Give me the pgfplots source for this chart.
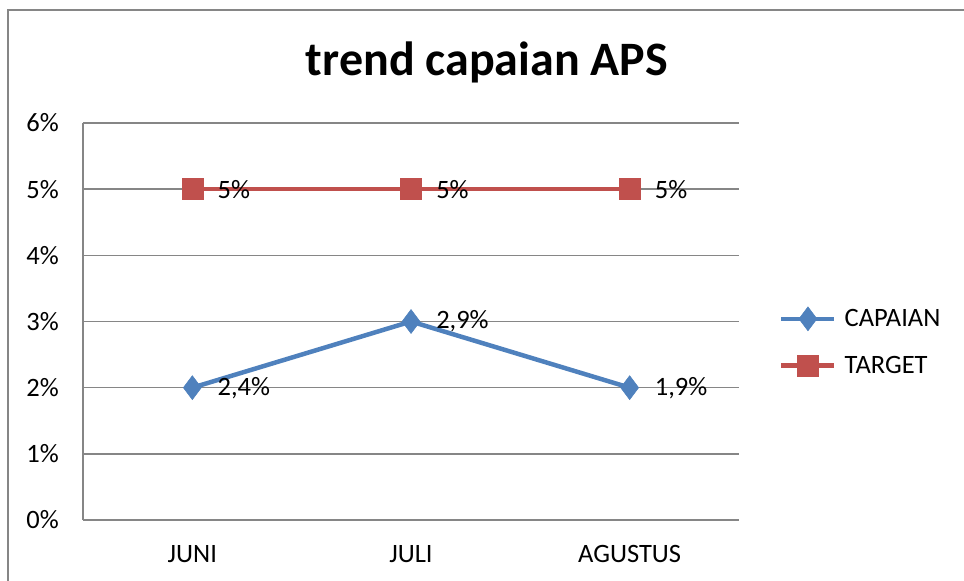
\documentclass[border=0pt]{standalone}
\usepackage{pgfplots}
\pgfplotsset{compat=1.18}
\usepackage{fontspec}
\setmainfont{Carlito}
\definecolor{capblue}{RGB}{79,129,189}
\definecolor{tgtred}{RGB}{192,80,77}
\definecolor{gridgray}{RGB}{134,134,134}
\definecolor{framegray}{RGB}{134,134,134}
\begin{document}
\begin{tikzpicture}[x=1pt,y=1pt]
\path[use as bounding box] (0,0) rectangle (964,581);
\draw[framegray, line width=2.5pt] (8,-2) -- (8,571) -- (966,571);
\node[anchor=base, font=\fontsize{48}{56}\selectfont\bfseries] at (487,505) {trend capaian APS};
\begin{axis}[
  at={(83pt,61pt)}, anchor=south west,
  scale only axis, width=656pt, height=397pt,
  xmin=-0.5, xmax=2.5, ymin=0, ymax=6,
  xtick={0,1,2}, xticklabels={JUNI,JULI,AGUSTUS},
  ytick={0,1,2,3,4,5,6}, yticklabels={0\%,1\%,2\%,3\%,4\%,5\%,6\%},
  axis x line*=bottom, axis y line*=left,
  axis line style={gridgray, line width=1.5pt, -},
  ymajorgrids, grid style={gridgray, line width=1.5pt},
  major tick length=0pt,
  tick label style={font=\fontsize{26.5}{31}\selectfont, inner sep=0pt},
  xticklabel style={yshift=-25pt},
  yticklabel style={xshift=-24pt},
  /pgf/number format/assume math mode=true,
  clip=false,
  legend style={at={(1.061,0.45)}, anchor=west, draw=none, fill=none,
    inner sep=0pt, font=\fontsize{26.5}{31}\selectfont, row sep=24pt, column sep=8pt,
    nodes={inner sep=0pt}},
  legend cell align=left,
  legend image code/.code={\draw[mark repeat=2,mark phase=2,#1] plot coordinates {(0pt,0pt) (26.5pt,0pt) (53pt,0pt)};},
  nodes near coords={\pgfplotspointmeta},
  point meta=explicit symbolic,
  every node near coord/.append style={anchor=west, inner sep=0pt, xshift=25pt, font=\fontsize{26.5}{31}\selectfont, text=black},
]
\addplot[capblue, line width=4.5pt, mark=diamond*, mark size=12pt, mark options={line width=0.5pt, fill=capblue}]
  table[meta=label] {
x y label
0 2 {2,4\%}
1 3 {2,9\%}
2 2 {1,9\%}
};
\addlegendentry{CAPAIAN}
\addplot[tgtred, line width=4.5pt, mark=square*, mark size=10.5pt, mark options={line width=0.5pt, fill=tgtred}]
  table[meta=label] {
x y label
0 5 {5\%}
1 5 {5\%}
2 5 {5\%}
};
\addlegendentry{TARGET}
\end{axis}
\end{tikzpicture}
\end{document}
